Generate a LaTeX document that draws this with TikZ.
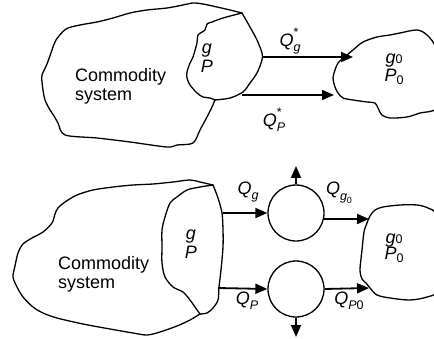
\documentclass[tikz,border=0pt]{standalone}
\usepackage{fontspec}
\setmainfont{Liberation Sans}
\usetikzlibrary{arrows.meta}

% text sizes
\newcommand\lbl{\fontsize{18}{19}\selectfont}
\newcommand\sm{\fontsize{12.5}{13}\selectfont}
\newcommand\tn{\fontsize{9}{9}\selectfont}
% sub- and superscripts built from text
\newcommand\lo[1]{\raisebox{-0.3em}{\sm #1}}
\newcommand\hi[1]{\raisebox{0.55em}{\sm #1}}
\newcommand\both[2]{\makebox[0pt][l]{\hi{#1}}\lo{#2}}

\tikzset{
  outline/.style={line width=1.3pt, line join=round, line cap=round},
  flow/.style={line width=1.8pt, -{Triangle[length=12pt,width=10pt]}},
  valve/.style={circle, draw, line width=1.3pt, minimum size=56pt, inner sep=0pt},
  txt/.style={font=\lbl, inner sep=0pt},
}

\begin{document}
\begin{tikzpicture}[x=1pt, y=-1pt]
\useasboundingbox (0,0) rectangle (434,339);
\clip (0,0) rectangle (434,339);

% ---------------- upper system: direct flows ----------------
% outer body of the commodity system
\draw[outline] plot[smooth, tension=0.5] coordinates {
  (242,13) (230,10) (217,7) (203,4) (193,3) (183,5) (167,8) (147,10)
  (130,13) (113,18) (97,22) (80,25) (66,29) (56,40) (52,50) (47,64)
  (42,75) (42,82) (43,90) (45,100) (50,110) (54,116) (58,123) (65,135)
  (97,138) (130,142) (167,147) (177,145) (193,143) (200,130) (207,117)
  (212,107) (215,100)};
% end face
\draw[outline] plot[smooth, tension=0.5] coordinates {
  (242,13) (250,27) (257,40) (262,53) (262,60) (257,73) (250,83)
  (243,92) (230,98) (215,100)};
\draw[outline] plot[smooth, tension=0.5] coordinates {
  (242,13) (223,18) (212,22) (207,24) (205,30) (198,35) (197,43)
  (193,57) (190,63) (187,72) (187,78) (190,85) (197,93) (203,97)
  (210,98) (215,100)};
\node[txt, align=left, anchor=base west] (cs1) at (75,101) {Commodity\\system};
\node[txt, align=center, anchor=base] (gP1) at (207,73) {\textit{g}\\\textit{P}};

% environment
\draw[outline] plot[smooth cycle, tension=0.5] coordinates {
  (347,55) (353,50) (363,42) (377,37) (390,35) (400,33) (417,30)
  (427,35) (436,48) (442,80) (437,108) (420,113) (407,117) (390,118)
  (382,115) (378,108) (375,103) (367,102) (353,100) (343,98) (338,93)
  (335,87) (333,78) (335,70) (338,63) (343,58)};
\node[txt, align=center, anchor=base] (env1) at (394,82)
  {\textit{g}{\sm 0}\\[-1pt]\textit{P}\raisebox{-0.15em}{\sm 0}};

\coordinate (s1g) at (262,57);
\coordinate (e1g) at (353,57);
\coordinate (s1p) at (242,95);
\coordinate (e1p) at (334,95);
\draw[flow] (s1g) -- (e1g);
\draw[flow] (s1p) -- (e1p);
\node[txt] (lq1g) at (290,41) {\textit{Q}\both{*}{\textit{g}}};
\node[txt] (lq1p) at (274,120) {\textit{Q}\both{*}{\textit{P}}};

% ---------------- lower system: flows through valves ----------------
\draw[outline] plot[smooth, tension=0.5] coordinates {
  (213,185) (200,182) (190,180) (173,182) (153,184) (133,185) (113,187)
  (93,190) (77,195) (65,202) (58,208) (55,214) (52,223) (43,232)
  (32,238) (23,244) (18,253) (15,266) (13,277) (17,287) (23,297)
  (33,307) (43,313) (57,318) (83,324) (110,329) (133,333) (147,335)
  (160,332) (177,326) (190,320) (200,314)};
\draw[outline] plot[smooth, tension=0.5] coordinates {
  (213,185) (218,198) (222,213) (223,230) (223,247) (221,270)
  (219,287) (218,300) (213,308) (207,313) (200,314)};
\draw[outline] plot[smooth, tension=0.5] coordinates {
  (213,185) (200,187) (187,190) (177,197) (170,203) (165,217)
  (162,230) (162,247) (162,263) (165,277) (173,287) (183,292)
  (190,300) (195,307) (200,314)};
\node[txt, align=left, anchor=base west] (cs2) at (58,288) {Commodity\\system};
\node[txt, align=center, anchor=base] (gP2) at (191,259) {\textit{g}\\\textit{P}};

\draw[outline] plot[smooth cycle, tension=0.5] coordinates {
  (370,216) (375,210) (383,207) (400,205) (417,205) (428,208)
  (436,215) (440,250) (437,290) (427,297) (410,300) (390,298)
  (377,295) (370,288) (366,283) (362,279) (360,270) (362,250)
  (364,232) (367,223)};
\node[txt, align=center, anchor=base] (env2) at (394,260)
  {\textit{g}{\sm 0}\\[-2pt]\textit{P}\raisebox{-0.15em}{\sm 0}};

\node[valve] (vg) at (296,213) {};
\node[valve] (vp) at (296,289) {};

\coordinate (s2g) at (223,213);
\coordinate (e2g) at (369,219);
\coordinate (s2p) at (218,288);
\coordinate (e2p) at (369,288);
\coordinate (upg) at (296,166);
\coordinate (dnp) at (296,337);

\draw[flow] (s2g) -- (vg.west);
\draw[flow] (vg.-12) -- (e2g);
\draw[flow] (vg.north) -- (upg);
\draw[flow] (s2p) -- (vp.west);
\draw[flow] (vp.east) -- (e2p);
\draw[flow] (vp.south) -- (dnp);

\node[txt] (lqg) at (248,192) {\textit{Q}\lo{\textit{g}}};
\node[txt] (lqg0) at (339,193) {\textit{Q}\lo{\textit{g}\raisebox{-0.25em}{\tn 0}}};
\node[txt] (lqp) at (247,301) {\textit{Q}\lo{\textit{P}}};
\node[txt] (lqp0) at (349,301) {\textit{Q}\lo{\textit{P}0}};
\end{tikzpicture}
\end{document}
